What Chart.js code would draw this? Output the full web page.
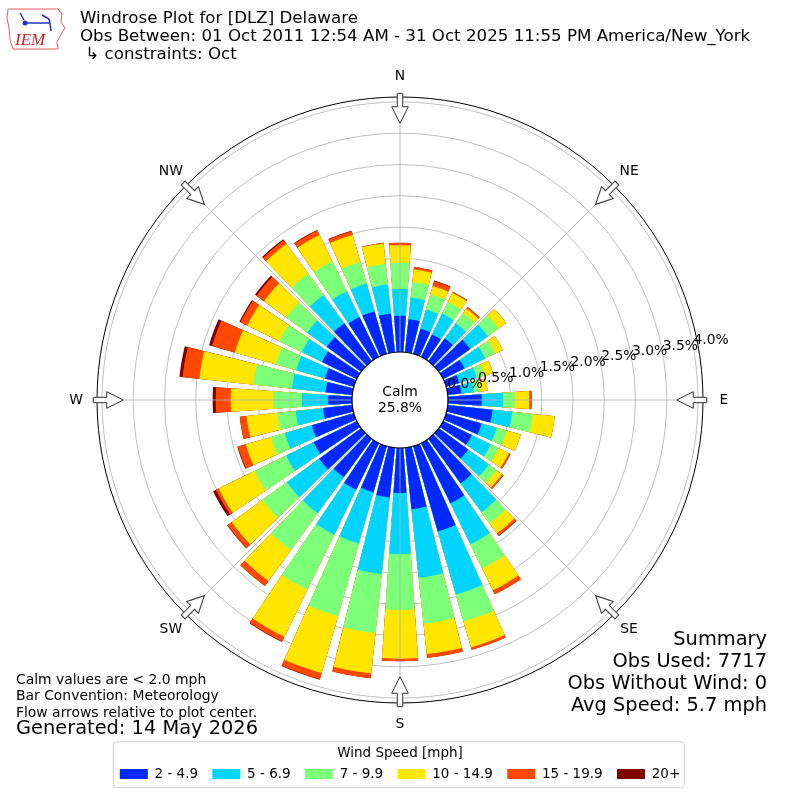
<!DOCTYPE html>
<html>
<head>
<meta charset="utf-8">
<script src="https://cdn.jsdelivr.net/npm/chart.js@4.4.1/dist/chart.umd.min.js"></script>
<style>
  html, body { margin: 0; padding: 0; background: #fff; }
  canvas { display: block; }
</style>
</head>
<body>
<canvas id="myChart" width="800" height="800"></canvas>
<script>
// wind directions (degrees, meteorological) and speed bins
const directions = [0, 10, 20, 30, 40, 50, 60, 70, 80, 90, 100, 110, 120, 130, 140, 150, 160, 170,
  180, 190, 200, 210, 220, 230, 240, 250, 260, 270, 280, 290, 300, 310, 320, 330, 340, 350];
const speedBins = ['2 - 4.9', '5 - 6.9', '7 - 9.9', '10 - 14.9', '15 - 19.9', '20+'];

// percent of obs per direction, one array per speed bin
const speed2to5 = [0.58, 0.53, 0.42, 0.40, 0.45, 0.62, 0.38, 0.22, 0.22, 0.54, 0.72, 0.59, 0.51, 0.58, 0.88, 1.07, 1.42, 0.99,
  0.72, 0.80, 0.77, 0.83, 0.76, 0.83, 0.77, 0.70, 0.47, 0.38, 0.43, 0.48, 0.62, 0.68, 0.75, 0.71, 0.71, 0.62];
const speed5to7 = [0.43, 0.35, 0.32, 0.37, 0.30, 0.35, 0.37, 0.29, 0.20, 0.34, 0.32, 0.25, 0.34, 0.41, 0.57, 0.73, 1.05, 1.10,
  0.98, 1.23, 0.85, 0.80, 0.71, 0.64, 0.49, 0.45, 0.44, 0.42, 0.54, 0.48, 0.36, 0.39, 0.56, 0.46, 0.46, 0.47];
const speed7to10 = [0.42, 0.25, 0.25, 0.21, 0.20, 0.21, 0.18, 0.13, 0.10, 0.19, 0.33, 0.17, 0.14, 0.15, 0.22, 0.43, 0.45, 0.74,
  0.89, 0.95, 1.21, 0.98, 0.73, 0.48, 0.56, 0.23, 0.30, 0.46, 0.62, 0.34, 0.40, 0.41, 0.42, 0.53, 0.36, 0.33];
const speed10to15 = [0.28, 0.20, 0.14, 0.16, 0.09, 0.15, 0.13, 0.14, 0.12, 0.23, 0.35, 0.23, 0.18, 0.11, 0.20, 0.39, 0.43, 0.49,
  0.78, 0.65, 0.95, 0.84, 0.61, 0.61, 0.64, 0.42, 0.49, 0.68, 0.87, 0.68, 0.57, 0.44, 0.59, 0.47, 0.45, 0.33];
const speed15to20 = [0.04, 0.04, 0.08, 0.02, 0.03, 0, 0, 0, 0, 0.04, 0, 0, 0.03, 0.03, 0.04, 0.07, 0.04, 0.06,
  0.04, 0.08, 0.10, 0.08, 0.10, 0.08, 0.05, 0.13, 0.11, 0.24, 0.27, 0.38, 0.12, 0.15, 0.07, 0.08, 0.06, 0.01];
const speed20plus = [0, 0, 0.01, 0, 0, 0, 0, 0, 0, 0, 0, 0, 0, 0, 0.01, 0, 0, 0,
  0, 0, 0.01, 0.01, 0, 0.01, 0.05, 0.01, 0, 0.05, 0.05, 0.05, 0.02, 0.03, 0.02, 0.01, 0.01, 0];

const calmPct = 25.8;
const radialTicks = [0, 0.5, 1.0, 1.5, 2.0, 2.5, 3.0, 3.5, 4.0];
const compassLabels = ['N', 'NE', 'E', 'SE', 'S', 'SW', 'W', 'NW'];

const titleLines = [
  'Windrose Plot for [DLZ] Delaware',
  'Obs Between: 01 Oct 2011 12:54 AM - 31 Oct 2025 11:55 PM America/New_York',
  ' \u21b3 constraints: Oct'
];
const noteLines = ['Calm values are < 2.0 mph', 'Bar Convention: Meteorology', 'Flow arrows relative to plot center.'];
const generatedText = 'Generated: 14 May 2026';
const summaryLines = ['Summary', 'Obs Used: 7717', 'Obs Without Wind: 0', 'Avg Speed: 5.7 mph'];

// styling / geometry
const binColors = ['#0028ff', '#00d4ff', '#7cff79', '#ffe600', '#ff4800', '#800000'];
const BAR_DEG = 8;
const CALM_RADIUS = 48;
const OUTER_RADIUS = 303;
const PX_PER_PCT = 62.5;
const R_MIN = -CALM_RADIUS / PX_PER_PCT;
const R_MAX = (OUTER_RADIUS - CALM_RADIUS) / PX_PER_PCT;
const FONT = "'DejaVu Sans', sans-serif";

Chart.defaults.font.family = FONT;
Chart.defaults.color = '#000';

// stacked: each ring is the running total, drawn with smaller totals on top
const bins = [speed2to5, speed5to7, speed7to10, speed10to15, speed15to20, speed20plus];
const running = directions.map(() => 0);
const datasets = bins.map(function(bin, k) {
  const data = [];
  directions.forEach(function(d, i) {
    running[i] += bin[i];
    data.push(running[i]);
    data.push(null); // gap wedge between bars
  });
  return {
    label: speedBins[k],
    data: data,
    backgroundColor: binColors[k],
    borderWidth: 0,
    borderColor: 'transparent',
    angle: function(c) { return c.dataIndex % 2 === 0 ? BAR_DEG : 10 - BAR_DEG; }
  };
});
const arcLabels = [];
directions.forEach(function(d) { arcLabels.push(d + '\u00b0'); arcLabels.push(''); });

function drawArrow(c, cx, cy, deg) {
  c.save();
  c.translate(cx, cy);
  c.rotate(deg * Math.PI / 180);
  c.beginPath();
  c.moveTo(-2.7, -306.7);
  c.lineTo(2.7, -306.7);
  c.lineTo(2.7, -293.3);
  c.lineTo(8.3, -293.3);
  c.lineTo(0, -276.7);
  c.lineTo(-8.3, -293.3);
  c.lineTo(-2.7, -293.3);
  c.closePath();
  c.fillStyle = '#fff';
  c.fill();
  c.strokeStyle = '#333';
  c.lineWidth = 1;
  c.stroke();
  c.restore();
}

function drawLogo(c) {
  c.save();
  c.strokeStyle = '#e06060';
  c.lineWidth = 1;
  c.beginPath();
  c.moveTo(8, 9); c.lineTo(58, 9); c.lineTo(62, 14); c.lineTo(61, 22); c.lineTo(65, 28);
  c.lineTo(60, 36); c.lineTo(57, 42); c.lineTo(58, 49); c.lineTo(13, 49); c.lineTo(10, 40);
  c.lineTo(9, 28); c.lineTo(7, 18); c.closePath();
  c.stroke();
  c.strokeStyle = '#2030c0';
  c.fillStyle = '#2030c0';
  c.lineWidth = 1.5;
  c.beginPath(); c.moveTo(24, 23); c.lineTo(50, 23); c.stroke();
  c.beginPath(); c.moveTo(20, 13); c.lineTo(24, 20); c.stroke();
  c.beginPath(); c.moveTo(42, 15); c.lineTo(49, 19); c.lineTo(50, 23); c.stroke();
  c.beginPath(); c.moveTo(50, 23); c.lineTo(51, 31); c.stroke();
  c.beginPath(); c.arc(25, 23, 2.5, 0, Math.PI * 2); c.fill();
  c.fillStyle = '#d02020';
  c.font = "italic 17px 'Liberation Serif', serif";
  c.textAlign = 'left';
  c.textBaseline = 'alphabetic';
  c.fillText('IEM', 15, 45);
  c.restore();
}

const windrosePlugin = {
  id: 'windrose',
  afterDraw: function(chart) {
    const c = chart.ctx;
    const s = chart.scales.r;
    const cx = s.xCenter;
    const cy = s.yCenter;
    const rCalm = s.getDistanceFromCenterForValue(0);
    const rOut = s.drawingArea;
    c.save();

    // 45 degree spokes
    c.strokeStyle = '#b0b0b0';
    c.lineWidth = 0.8;
    for (let a = 0; a < 360; a += 45) {
      const t = a * Math.PI / 180;
      c.beginPath();
      c.moveTo(cx, cy);
      c.lineTo(cx + rOut * Math.sin(t), cy - rOut * Math.cos(t));
      c.stroke();
    }

    // calm circle
    c.beginPath();
    c.arc(cx, cy, rCalm, 0, Math.PI * 2);
    c.fillStyle = '#fff';
    c.fill();
    c.strokeStyle = '#000';
    c.lineWidth = 1.2;
    c.stroke();
    c.fillStyle = '#000';
    c.font = '13.9px ' + FONT;
    c.textAlign = 'center';
    c.textBaseline = 'middle';
    c.fillText('Calm', cx, cy - 8);
    c.fillText(calmPct.toFixed(1) + '%', cx, cy + 8);

    // radial tick labels along 80 deg
    const ang = 10 * Math.PI / 180;
    radialTicks.forEach(function(v) {
      const r = s.getDistanceFromCenterForValue(v);
      c.fillText(v.toFixed(1) + '%', cx + r * Math.cos(ang) + 17.7, cy - r * Math.sin(ang) - 7.7);
    });

    // compass arrows and labels
    compassLabels.forEach(function(lab, i) {
      const deg = i * 45;
      drawArrow(c, cx, cy, deg);
      const t = deg * Math.PI / 180;
      c.fillStyle = '#000';
      c.font = '13.9px ' + FONT;
      c.textAlign = 'center';
      c.textBaseline = 'middle';
      c.fillText(lab, cx + 324 * Math.sin(t), cy - 324 * Math.cos(t));
    });

    // header
    drawLogo(c);
    c.fillStyle = '#000';
    c.font = '16.67px ' + FONT;
    c.textAlign = 'left';
    c.textBaseline = 'middle';
    titleLines.forEach(function(line, i) { c.fillText(line, 80, 19 + i * 18); });

    // footnotes
    c.font = '13.9px ' + FONT;
    noteLines.forEach(function(line, i) { c.fillText(line, 16, 680 + i * 16.5); });
    c.font = '19.4px ' + FONT;
    c.fillText(generatedText, 16, 729);

    c.textAlign = 'right';
    summaryLines.forEach(function(line, i) { c.fillText(line, 767, 640 + i * 22); });

    // legend frame
    const lg = chart.legend;
    const hb = lg.legendHitBoxes;
    const x0 = Math.min.apply(null, hb.map(function(h) { return h.left; })) - 6.5;
    const x1 = Math.max.apply(null, hb.map(function(h) { return h.left + h.width; })) + 4;
    c.strokeStyle = '#d0d0d0';
    c.lineWidth = 1;
    c.beginPath();
    c.roundRect(x0, lg.top - 4.5, x1 - x0, 46, 3);
    c.stroke();

    c.restore();
  }
};

const ctx = document.getElementById('myChart').getContext('2d');
const myChart = new Chart(ctx, {
  type: 'polarArea',
  data: {
    labels: arcLabels,
    datasets: datasets
  },
  options: {
    responsive: false,
    animation: false,
    layout: { padding: { left: 10, right: 10, top: 10, bottom: 9.25 } },
    scales: {
      r: {
        min: R_MIN,
        max: R_MAX,
        startAngle: -BAR_DEG / 2,
        afterBuildTicks: function(scale) {
          scale.ticks = radialTicks.concat([R_MAX]).map(function(v) { return { value: v }; });
        },
        afterFit: function(scale) {
          scale.xCenter = scale.chart.width / 2;
          scale.yCenter = scale.chart.height / 2;
          scale.drawingArea = OUTER_RADIUS;
        },
        ticks: { display: false, z: 1 },
        grid: {
          circular: true,
          color: function(c) { return c.tick && c.tick.value === R_MAX ? '#000' : '#b0b0b0'; },
          lineWidth: function(c) { return c.tick && c.tick.value === R_MAX ? 1 : 0.8; }
        },
        angleLines: { display: false },
        pointLabels: { display: false }
      }
    },
    plugins: {
      tooltip: { enabled: false },
      legend: {
        position: 'bottom',
        title: {
          display: true,
          text: 'Wind Speed [mph]',
          font: { size: 13.5 },
          padding: { top: 0, bottom: -9.5 }
        },
        labels: {
          boxWidth: 28,
          boxHeight: 10,
          padding: 14.3,
          font: { size: 13.5 },
          generateLabels: function(chart) {
            return chart.data.datasets.map(function(ds, i) {
              return {
                text: ds.label,
                fillStyle: ds.backgroundColor,
                strokeStyle: ds.backgroundColor,
                lineWidth: 0,
                hidden: false,
                datasetIndex: i
              };
            });
          }
        }
      }
    }
  },
  plugins: [windrosePlugin]
});
</script>
</body>
</html>
